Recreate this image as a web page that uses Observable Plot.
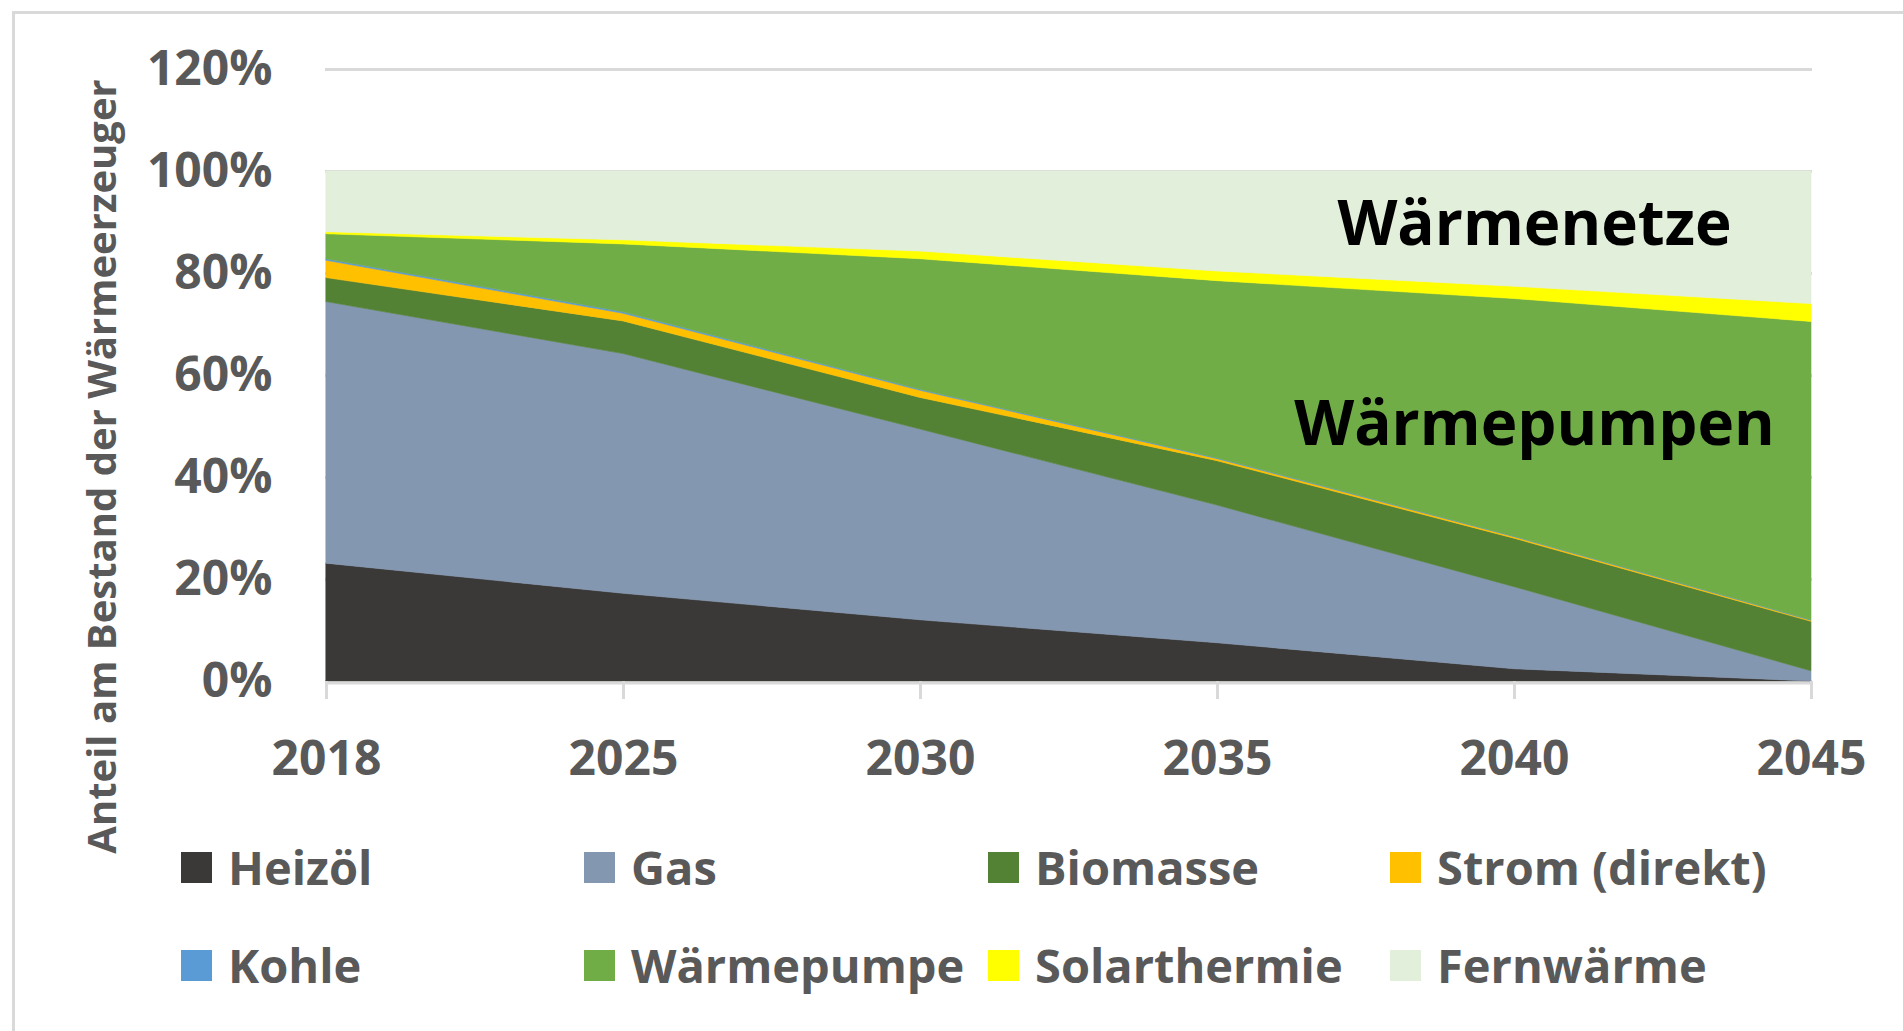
<!DOCTYPE html>
<html>
<head>
<meta charset="utf-8">
<script src="https://cdn.jsdelivr.net/npm/d3@7"></script>
<script src="https://cdn.jsdelivr.net/npm/@observablehq/plot@0.6"></script>
<style>
  html, body { margin: 0; padding: 0; background: #fff; }
  #wrap { position: relative; width: 1903px; height: 1031px; overflow: hidden; font-family: "Open Sans", sans-serif; }
  #frame { position: absolute; left: 12px; top: 11px; width: 2000px; height: 2000px;
           border-top: 3px solid #d9d9d9; border-left: 3px solid #d9d9d9; box-sizing: border-box; }
  #chart { position: absolute; left: 0; top: 0; }
  .lg { position: absolute; display: flex; align-items: center; height: 60px; white-space: nowrap;
        font-size: 47px; font-weight: 700; color: #595959; line-height: 1; }
  .sw { width: 31px; height: 31px; margin-right: 16px; flex: none; }
</style>
</head>
<body>
<div id="wrap">
  <div id="frame"></div>
  <div id="chart"></div>
  <div id="legend"></div>
</div>
<script>
// ---- data (shares in %) ----
const years = [2018, 2025, 2030, 2035, 2040, 2045];
const seriesNames = ["Heizöl", "Gas", "Biomasse", "Strom (direkt)", "Kohle", "Wärmepumpe", "Solarthermie", "Fernwärme"];
const heizoel      = [23.1, 17.2, 12.0,  7.5,  2.4,  0.0];
const gas          = [51.3, 47.0, 37.4, 27.0, 16.1,  2.0];
const biomasse     = [ 4.7,  6.4,  6.2,  8.7,  9.5,  9.7];
const strom        = [ 3.4,  1.5,  1.4,  0.4,  0.3,  0.2];
const kohle        = [ 0.3,  0.3,  0.2, 0.15,  0.1,  0.1];
const waermepumpe  = [ 4.9, 13.3, 25.6, 34.75, 46.6, 58.5];
const solarthermie = [ 0.4,  0.8,  1.5,  1.9,  2.4,  3.5];
const fernwaerme   = [11.9, 13.5, 15.7, 19.6, 22.6, 26.0];
const colors = ["#3a3937", "#8497b0", "#548235", "#ffc000", "#5b9bd5", "#70ad47", "#ffff00", "#e2efda"];
const yTicks = [0, 20, 40, 60, 80, 100, 120];
const yTitle = "Anteil am Bestand der Wärmeerzeuger";
const annoLabels = ["Wärmenetze", "Wärmepumpen"];
const annoYears  = [2040, 2040];
const annoValues = [89.5, 50.3];

// ---- build table ----
const seriesValues = [heizoel, gas, biomasse, strom, kohle, waermepumpe, solarthermie, fernwaerme];
const table = [];
seriesNames.forEach((s, i) => years.forEach((y, j) => table.push({series: s, year: y, value: seriesValues[i][j]})));
const annotations = annoLabels.map((t, i) => ({label: t, year: annoYears[i], value: annoValues[i]}));

const grey = "#595959";
const chart = Plot.plot({
  width: 1903,
  height: 800,
  marginLeft: 325,
  marginRight: 91,
  marginTop: 69,
  marginBottom: 119,
  style: {fontFamily: "'Open Sans', sans-serif", background: "transparent", overflow: "visible"},
  x: {type: "point", domain: years, padding: 0, label: null},
  y: {domain: [0, 120], label: null},
  color: {domain: seriesNames, range: colors, legend: false},
  marks: [
    Plot.gridY(yTicks, {stroke: "#d9d9d9", strokeOpacity: 1, strokeWidth: 3}),
    Plot.areaY(table, {x: "year", y: "value", fill: "series", stroke: "series", strokeWidth: 0.6, order: seriesNames, curve: "linear"}),
    Plot.ruleY([0], {stroke: "#d9d9d9", strokeWidth: 3, dy: 1.5}),
    Plot.axisX(years, {tickSize: 18, stroke: "#d9d9d9", strokeWidth: 3, fill: grey, fontSize: 48, fontWeight: "bold",
                        tickPadding: 41, tickFormat: d => String(d), label: null}),
    Plot.axisY(yTicks, {tickSize: 0, tickPadding: 53, fill: grey, fontSize: 48, fontWeight: "bold",
                        tickFormat: d => d + "%", label: null}),
    Plot.text(annotations, {x: "year", y: "value", text: "label", dx: 20, fontSize: 62, fontWeight: "bold",
                            fill: "#000", textAnchor: "middle"}),
    Plot.text([yTitle], {frameAnchor: "left", rotate: -90, dx: -222, dy: 91, fontSize: 40, fontWeight: "bold",
                         fill: grey, textAnchor: "middle"})
  ]
});
document.getElementById("chart").appendChild(chart);

// ---- legend ----
const legendCols = [181, 584, 988, 1390];
const legendRows = [867, 965];
const legend = document.getElementById("legend");
seriesNames.forEach((s, i) => {
  const item = document.createElement("div");
  item.className = "lg";
  item.style.left = legendCols[i % 4] + "px";
  item.style.top = (legendRows[Math.floor(i / 4)] - 30) + "px";
  const sw = document.createElement("div");
  sw.className = "sw";
  sw.style.background = colors[i];
  const tx = document.createElement("span");
  tx.textContent = s;
  item.appendChild(sw);
  item.appendChild(tx);
  legend.appendChild(item);
});
</script>
</body>
</html>
